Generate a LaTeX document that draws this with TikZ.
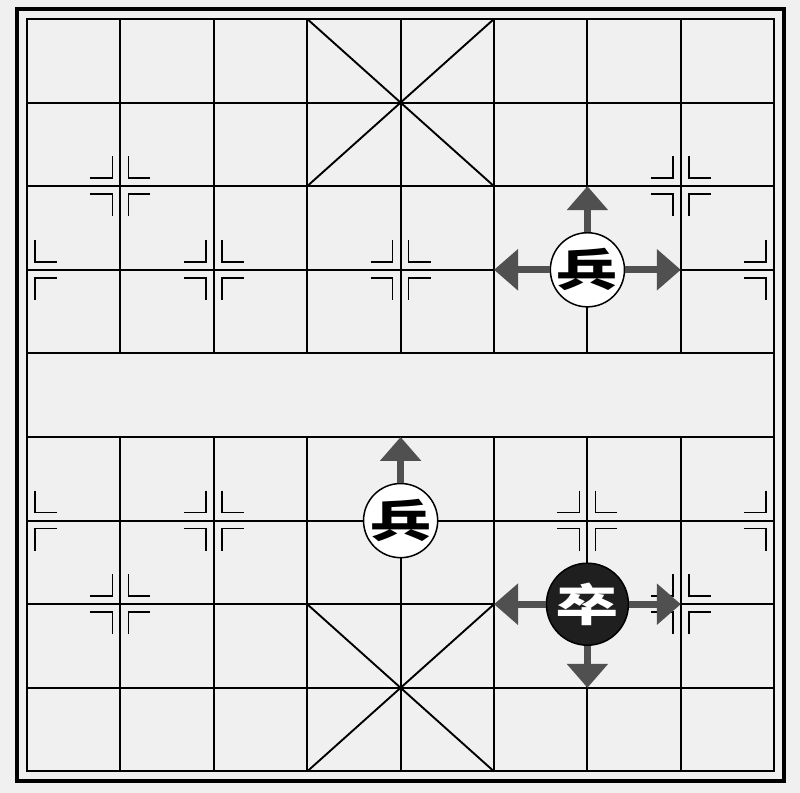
\documentclass[tikz,border=0pt]{standalone}
\usepackage{fontspec}
\usepackage{tikz}
\usetikzlibrary{arrows.meta}
\newfontfamily\cjk{Noto Sans CJK SC}
\definecolor{boardbg}{HTML}{F0F0F0}
\definecolor{movegray}{HTML}{505050}
\tikzset{
  gridline/.style={line width=1.9pt},
  piece/.style={draw, circle, line width=1.5pt, inner sep=0pt, font=\cjk\bfseries\fontsize{47}{47}\selectfont},
  whitepiece/.style={piece, fill=white, minimum size=74pt},
  blackpiece/.style={piece, fill=black!88, text=white, minimum size=82pt},
  move/.style={-{Triangle[length=24pt,width=40pt]}, line width=7pt, draw=movegray}
}
% corner marks round a point: #1 column, #2 row, #3 sides (-1 left, 1 right)
\newcommand{\posmark}[3]{%
  \foreach \sx in {#3}{
    \foreach \sy/\ny in {-1/1,1/-1}{
      \draw [line width=1.7pt] ([shift={(\sx*8pt,\sy*30pt)}]#1,#2) -- ++(0,\ny*22pt) -- ++(\sx*22pt,0);
    }
  }
}

\begin{document}
\begin{tikzpicture}[x=93.4pt, y=-83.6pt]
        \fill [boardbg] (-0.289,-0.227) rectangle (8.276,9.258);
        \useasboundingbox (-0.289,-0.227) rectangle (8.276,9.258);

        % Frame and grid
        \draw [line width=4pt] ([shift={(-10pt,10pt)}]0,0) rectangle ([shift={(10pt,-10pt)}]8,9);
        \draw [gridline] (0,0) rectangle (8,9);
        \foreach \r in {1,...,8}
            \draw [gridline] (0,\r) -- (8,\r);
        \foreach \c in {1,...,7} {
            \draw [gridline] (\c,0) -- (\c,4);
            \draw [gridline] (\c,5) -- (\c,9);
        }
        \draw [gridline] (3,0) -- (5,2);
        \draw [gridline] (5,0) -- (3,2);
        \draw [gridline] (3,7) -- (5,9);
        \draw [gridline] (5,7) -- (3,9);

        % Marks
        \posmark{1}{2}{-1,1}
        \posmark{7}{2}{-1,1}
        \posmark{0}{3}{1}
        \posmark{2}{3}{-1,1}
        \posmark{4}{3}{-1,1}
        \posmark{8}{3}{-1}
        \posmark{0}{6}{1}
        \posmark{2}{6}{-1,1}
        \posmark{6}{6}{-1,1}
        \posmark{8}{6}{-1}
        \posmark{1}{7}{-1,1}
        \posmark{7}{7}{-1,1}

        % Nodes
        \node (bing_1) [whitepiece] at (6,3) {\scalebox{1.3}[0.95]{兵}};
        \node (bing_2) [whitepiece] at (4,6) {\scalebox{1.3}[0.95]{兵}};
        \node (zu) [blackpiece] at (6,7) {\scalebox{1.35}[0.95]{卒}};
        \coordinate (B1_up) at (6,2);
        \coordinate (B1_left) at (5,3);
        \coordinate (B1_right) at (7,3);
        \coordinate (B2_up) at (4,5);
        \coordinate (Z_left) at (5,7);
        \coordinate (Z_right) at (7,7);
        \coordinate (Z_down) at (6,8);

        % Arrows
        \draw [move] (bing_1) -- (B1_up);
        \draw [move] (bing_1) -- (B1_left);
        \draw [move] (bing_1) -- (B1_right);
        \draw [move] (bing_2) -- (B2_up);
        \draw [move] (zu) -- (Z_left);
        \draw [move] (zu) -- (Z_right);
        \draw [move] (zu) -- (Z_down);
    \end{tikzpicture}
\end{document}
